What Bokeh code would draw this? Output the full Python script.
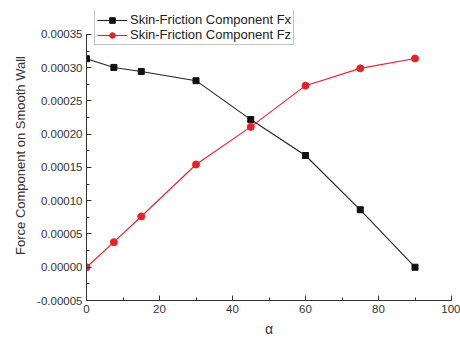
from bokeh.plotting import figure
from bokeh.models import SingleIntervalTicker, PrintfTickFormatter, Range1d, Legend, LegendItem
from bokeh.embed import file_html
from bokeh.resources import INLINE

alpha = [0, 7.5, 15, 30, 45, 60, 75, 90]
fx = [0.0003135, 0.0003004, 0.0002944, 0.0002805, 0.000222, 0.000168, 0.0000864, 0.0]
fz = [0.0, 0.0000377, 0.0000763, 0.0001545, 0.000211, 0.000273, 0.000299, 0.0003139]
label_fx = "Skin-Friction Component Fx"
label_fz = "Skin-Friction Component Fz"

FONT = "Liberation Sans"

p = figure(width=460, height=339, output_backend="svg", toolbar_location=None,
           x_range=Range1d(0, 100), y_range=Range1d(-0.00005, 0.000386),
           min_border_left=86, min_border_right=9, min_border_top=10, min_border_bottom=39)
p.outline_line_color = None
p.grid.visible = False
p.background_fill_color = "white"

lx = p.line(alpha, fx, line_color="#222222", line_width=1.1)
mx = p.scatter(alpha, fx, marker="square", size=6, color="#111111")
lz = p.line(alpha, fz, line_color="#e8202a", line_width=1.1)
mz = p.scatter(alpha, fz, marker="circle", size=7, color="#e8202a")

for ax in (p.xaxis[0], p.yaxis[0]):
    ax.major_tick_in = 5
    ax.major_tick_out = 0
    ax.minor_tick_in = 3
    ax.minor_tick_out = 0
    ax.axis_line_color = "#333333"
    ax.major_tick_line_color = "#333333"
    ax.minor_tick_line_color = "#333333"
    ax.major_label_text_font = FONT
    ax.major_label_text_font_size = "11.5px"
    ax.major_label_text_color = "#333333"
    ax.axis_label_text_font = FONT
    ax.axis_label_text_font_style = "normal"
    ax.axis_label_text_color = "#333333"

p.xaxis.ticker = SingleIntervalTicker(interval=20, num_minor_ticks=2)
p.yaxis.ticker = SingleIntervalTicker(interval=0.00005, num_minor_ticks=2)
p.yaxis.bounds = (-0.00005, 0.00035)
p.yaxis.formatter = PrintfTickFormatter(format="%.5f")
p.xaxis.axis_label = "α"
p.xaxis.axis_label_text_font_size = "14px"
p.xaxis.axis_label_standoff = 5
p.yaxis.axis_label = "Force Component on Smooth Wall"
p.yaxis.axis_label_text_font_size = "13px"
p.yaxis.axis_label_standoff = 6
p.yaxis.major_label_standoff = 4
p.xaxis.major_label_standoff = 4

legend = Legend(items=[LegendItem(label=label_fx, renderers=[lx, mx]),
                       LegendItem(label=label_fz, renderers=[lz, mz])],
                location=(8, 255))
legend.label_text_font = FONT
legend.label_text_font_size = "13px"
legend.label_text_color = "#222222"
legend.border_line_color = "#888888"
legend.border_line_width = 1
legend.padding = 2
legend.spacing = 0
legend.margin = 0
legend.label_height = 14
legend.glyph_height = 14
legend.glyph_width = 30
legend.label_standoff = 3
legend.background_fill_alpha = 1
p.add_layout(legend, "center")

open("out.html", "w").write(file_html(p, INLINE))
